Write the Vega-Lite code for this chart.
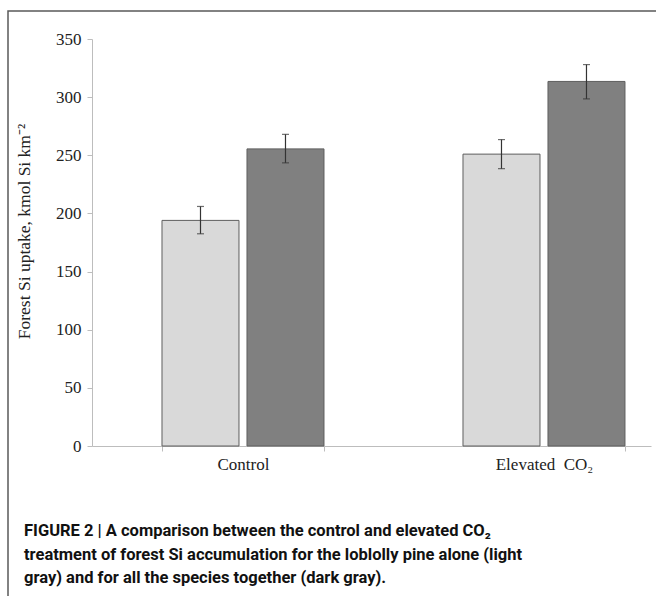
{
  "$schema": "https://vega.github.io/schema/vega-lite/v6.json",
  "width": 660,
  "height": 592,
  "autosize": {"type": "none"},
  "padding": {"left": 8, "top": 11, "right": 0, "bottom": 0},
  "background": "white",
  "config": {
    "view": {"stroke": "#5a5a5a", "strokeWidth": 1.5},
    "axis": {"grid": false}
  },
  "title": {
    "text": [
      "FIGURE 2 | A comparison between the control and elevated CO₂",
      "treatment of forest Si accumulation for the loblolly pine alone (light",
      "gray) and for all the species together (dark gray)."
    ],
    "orient": "bottom",
    "anchor": "start",
    "frame": "group",
    "offset": -67,
    "dx": 16,
    "font": "Roboto",
    "fontSize": 16.5,
    "fontWeight": "bold",
    "color": "#111111",
    "lineHeight": 23.5,
    "baseline": "alphabetic"
  },
  "data": {
    "values": [
      {"group": "Control", "series": "Loblolly pine", "value": 194, "lo": 182.5, "hi": 206},
      {"group": "Control", "series": "All species", "value": 255.5, "lo": 243.5, "hi": 268},
      {"group": "Elevated CO₂", "series": "Loblolly pine", "value": 251, "lo": 238.5, "hi": 263.5},
      {"group": "Elevated CO₂", "series": "All species", "value": 313.5, "lo": 298.5, "hi": 328}
    ]
  },
  "encoding": {
    "x": {
      "field": "group",
      "type": "nominal",
      "sort": null,
      "scale": {"range": [84, 643], "paddingInner": 0.4618, "paddingOuter": 0.1595, "align": 0.729},
      "axis": {
        "orient": "bottom",
        "offset": -157,
        "title": null,
        "labelAngle": 0,
        "labelExpr": "datum.value == 'Elevated CO₂' ? 'Elevated\u2002CO₂' : datum.value",
        "labelFont": "Liberation Serif",
        "labelFontSize": 17,
        "labelColor": "#222222",
        "labelPadding": 5,
        "domainColor": "#bdbdbd",
        "tickColor": "#bdbdbd",
        "tickSize": 5,
        "tickBand": "extent"
      }
    },
    "xOffset": {
      "field": "series",
      "type": "nominal",
      "sort": ["Loblolly pine", "All species"],
      "scale": {"paddingInner": 0.094, "paddingOuter": 0}
    }
  },
  "layer": [
    {
      "mark": {"type": "bar", "stroke": "#5f5f5f", "strokeWidth": 1},
      "encoding": {
        "y": {
          "field": "value",
          "type": "quantitative",
          "scale": {"domain": [0, 350], "range": [435, 28], "nice": false},
          "axis": {
            "orient": "left",
            "offset": -84,
            "values": [0, 50, 100, 150, 200, 250, 300, 350],
            "title": "Forest Si uptake, kmol Si km⁻²",
            "titleFont": "Liberation Serif",
            "titleFontSize": 17.5,
            "titleFontWeight": "normal",
            "titleColor": "#222222",
            "titlePadding": 22,
            "titleY": 220,
            "labelFont": "Liberation Serif",
            "labelFontSize": 17,
            "labelColor": "#222222",
            "labelPadding": 6,
            "domainColor": "#bdbdbd",
            "tickColor": "#bdbdbd",
            "tickSize": 5
          }
        },
        "color": {
          "field": "series",
          "type": "nominal",
          "scale": {"domain": ["Loblolly pine", "All species"], "range": ["#d9d9d9", "#808080"]},
          "legend": null
        }
      }
    },
    {
      "mark": {"type": "rule", "color": "#333333", "strokeWidth": 1.2},
      "encoding": {
        "y": {"field": "lo", "type": "quantitative"},
        "y2": {"field": "hi"}
      }
    },
    {
      "mark": {"type": "tick", "orient": "horizontal", "color": "#333333", "size": 7, "thickness": 1.2},
      "encoding": {
        "y": {"field": "lo", "type": "quantitative"}
      }
    },
    {
      "mark": {"type": "tick", "orient": "horizontal", "color": "#333333", "size": 7, "thickness": 1.2},
      "encoding": {
        "y": {"field": "hi", "type": "quantitative"}
      }
    }
  ]
}
